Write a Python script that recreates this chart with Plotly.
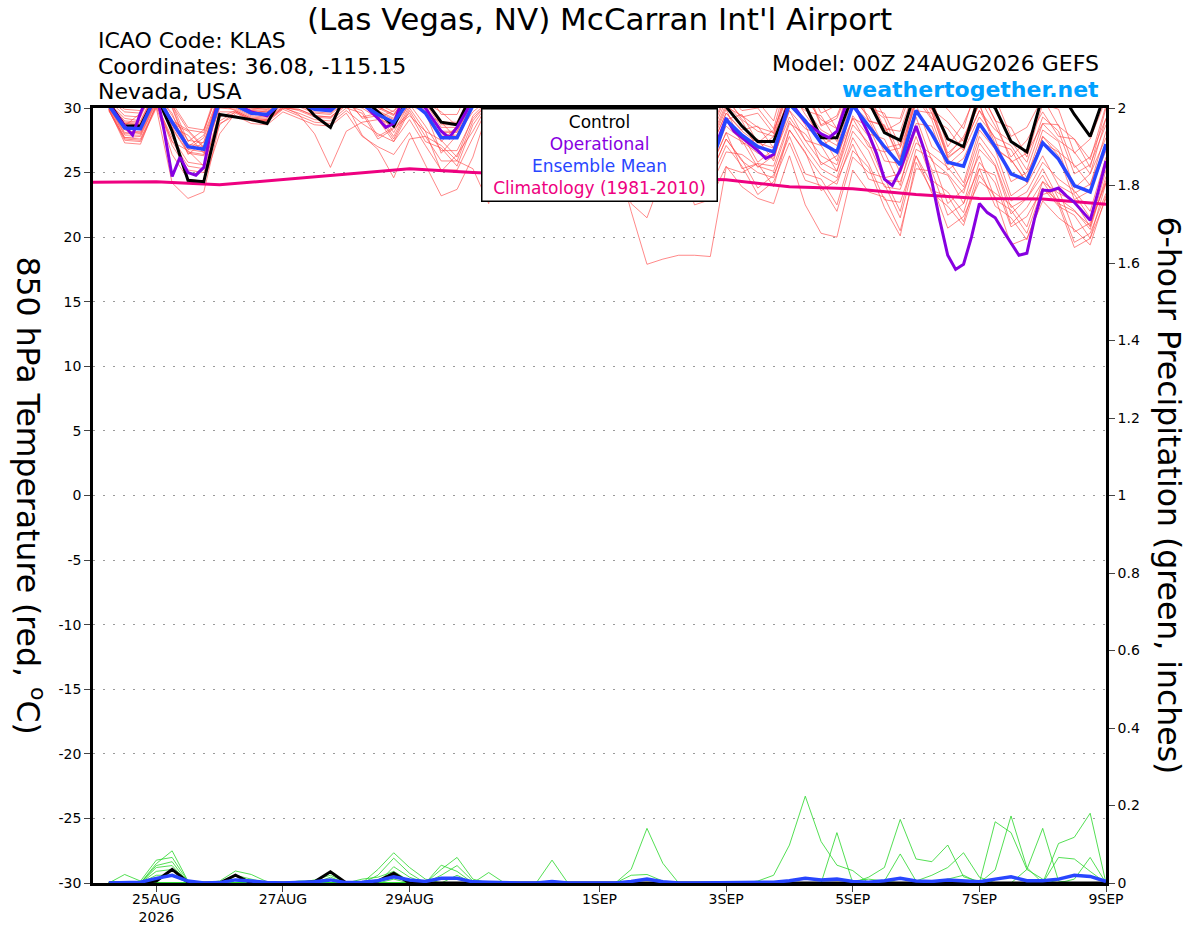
import pandas as pd
import plotly.graph_objects as go

# GEFS 6-hourly output: 24AUG2026 06Z ... 09SEP2026 00Z (64 steps)
times = pd.date_range("2026-08-24 06:00", "2026-09-09 00:00", freq="6h")

# 850 hPa temperature (C), control run
control = [30.4, 28.6, 28.6, 31.0, 28.2, 24.4, 24.3, 29.5, 29.3, 29.1, 28.8, 31.0, 30.8, 29.4, 28.5, 31.2,
           30.8, 29.7, 28.6, 31.0, 30.6, 28.9, 28.7, 31.2, 32.0, 31.5, 31.5, 33.0, 32.0, 31.5, 31.5, 33.0,
           32.0, 31.0, 31.0, 32.5, 31.5, 31.2, 31.3, 30.1, 28.6, 27.4, 27.4, 30.5, 30.2, 27.7, 27.7, 31.0,
           30.5, 28.1, 27.5, 31.5, 30.2, 27.6, 27.0, 31.0, 30.0, 27.4, 26.6, 31.0, 31.5, 29.5, 27.8, 31.3]

# ensemble mean
ens_mean = [30.2, 28.45, 28.4, 31.0, 28.9, 27.0, 26.8, 30.5, 30.2, 29.6, 29.5, 30.5, 30.4, 29.9, 29.8, 30.8,
            30.3, 29.5, 28.9, 30.6, 29.6, 27.7, 27.7, 30.2, 31.0, 30.5, 30.5, 31.5, 31.0, 30.5, 30.3, 31.5,
            30.8, 29.5, 29.0, 30.8, 30.0, 28.5, 25.5, 29.1, 27.9, 27.0, 26.6, 30.3, 29.0, 27.3, 26.6, 30.2,
            28.6, 27.0, 25.6, 29.8, 28.0, 25.8, 25.5, 28.8, 27.0, 24.9, 24.4, 27.3, 26.05, 24.0, 23.5, 27.2]

# operational GFS (3-hourly where the kinks show)
op_hours = [6, 9, 12, 15, 18, 21, 24, 27, 30, 33, 36, 39, 42, 45, 48, 54, 60, 66, 72, 78, 84, 90, 96, 102, 108,
            111, 114, 117, 120, 126, 132, 135, 138, 144, 150, 156, 162, 168, 174, 180, 186, 192, 198, 204, 210,
            216, 222, 228, 234, 240, 243, 246, 252, 255, 258, 261, 264, 270, 276, 279, 282, 285, 288, 294, 297,
            300, 303, 306, 312, 315, 318, 321, 324, 327, 330, 333, 336, 339, 342, 345, 348, 351, 354, 357, 360,
            363, 366, 369, 372, 375, 378, 381, 384]
op_temp = [30.3, 29.4, 28.6, 27.9, 29.6, 31.0, 31.2, 28.2, 24.7, 26.2, 25.0, 24.8, 25.4, 28.6, 31.0, 30.3, 29.7,
           29.4, 30.6, 30.6, 30.0, 29.9, 30.9, 30.4, 29.2, 28.5, 28.8, 30.5, 31.0, 30.0, 28.2, 27.7, 28.5, 30.6,
           31.0, 30.8, 30.5, 31.8, 31.2, 30.6, 30.4, 31.6, 31.0, 29.8, 29.2, 30.9, 30.0, 28.0, 26.0, 29.2, 28.2,
           27.7, 26.7, 26.1, 26.4, 28.5, 30.6, 28.9, 28.0, 27.7, 28.2, 30.0, 30.5, 28.0, 26.5, 24.5, 24.0, 25.2,
           28.6, 26.8, 24.3, 21.3, 18.6, 17.5, 17.9, 20.0, 22.6, 21.9, 21.5, 20.5, 19.5, 18.6, 18.75, 21.5, 23.65,
           23.6, 23.8, 23.2, 22.7, 22.0, 21.3, 23.5, 25.9]

# climatology (1981-2010), daily 00Z
clim = [24.25, 24.3, 24.05, 24.45, 24.9, 25.3, 25.0, 24.8, 24.7, 24.6, 24.45, 23.9, 23.75, 23.3, 23.0, 22.95, 22.55]

# ensemble members
m01 = [30.5, 28.6, 29.6, 31.8, 30.3, 27.4, 28.3, 31.5, 30.7, 30.1, 30.0, 31.0, 31.0, 30.5, 30.4, 31.4,
       31.1, 30.3, 29.7, 31.4, 30.8, 28.9, 28.9, 31.4, 31.5, 31.0, 31.0, 32.0, 31.8, 31.3, 31.1, 32.3,
       31.8, 30.5, 30.0, 31.8, 31.5, 30.0, 27.8, 30.6, 29.3, 29.6, 28.0, 32.3, 31.8, 28.7, 29.4, 32.4,
       31.1, 28.2, 28.9, 32.3, 30.8, 27.0, 28.8, 31.6, 29.0, 28.5, 26.2, 30.3, 29.9, 26.5, 27.6, 30.7]
m02 = [30.3, 28.8, 28.7, 31.3, 29.4, 27.5, 27.3, 31.0, 30.5, 29.9, 29.8, 30.8, 30.2, 29.7, 29.6, 30.6,
       30.7, 29.2, 29.8, 31.0, 29.5, 28.9, 27.6, 30.8, 31.3, 30.8, 30.8, 31.8, 31.5, 31.0, 30.8, 32.0,
       31.4, 30.1, 29.6, 31.4, 31.0, 29.5, 27.3, 30.1, 29.4, 28.5, 28.1, 31.8, 30.8, 29.1, 28.4, 32.0,
       30.1, 29.2, 26.2, 31.3, 29.2, 28.4, 26.7, 30.8, 28.6, 26.2, 27.5, 29.7, 27.8, 27.6, 25.4, 30.0]
m03 = [30.0, 27.9, 27.9, 30.5, 27.4, 26.7, 25.5, 29.7, 29.7, 29.1, 29.0, 30.0, 29.9, 29.4, 29.3, 30.3,
       30.0, 29.2, 28.6, 30.3, 28.6, 26.7, 26.7, 29.2, 30.5, 30.0, 30.0, 31.0, 30.8, 30.3, 30.1, 31.3,
       30.8, 29.5, 29.0, 30.8, 29.5, 28.0, 25.8, 28.6, 27.5, 25.4, 26.3, 29.3, 27.5, 27.1, 25.1, 29.4,
       27.8, 24.6, 24.9, 28.3, 25.2, 24.8, 22.6, 26.8, 25.5, 21.8, 23.0, 24.8, 22.6, 22.0, 20.9, 24.4]
m04 = [30.7, 29.7, 29.6, 32.2, 30.2, 28.3, 28.1, 31.8, 31.0, 30.4, 30.3, 31.3, 31.3, 30.8, 30.7, 31.7,
       31.3, 29.8, 30.4, 31.6, 30.4, 29.7, 28.6, 31.7, 32.0, 31.5, 31.5, 32.5, 32.2, 31.7, 31.5, 32.7,
       32.3, 31.0, 30.5, 32.3, 31.8, 30.3, 28.1, 30.9, 29.1, 28.2, 27.8, 31.5, 29.5, 27.8, 27.1, 30.7,
       29.4, 26.9, 27.2, 30.6, 29.9, 26.3, 27.8, 30.3, 27.2, 26.8, 24.6, 28.3, 27.4, 23.8, 24.9, 27.7]
m05 = [29.8, 27.6, 27.5, 30.1, 26.4, 24.5, 24.3, 28.0, 29.6, 29.0, 28.9, 29.9, 29.4, 28.9, 28.8, 29.8,
       28.8, 28.0, 27.4, 29.1, 27.1, 25.2, 25.2, 27.7, 30.2, 29.7, 29.7, 30.7, 30.0, 29.5, 29.3, 30.5,
       29.6, 28.3, 27.8, 29.6, 28.5, 27.0, 24.8, 27.6, 26.0, 23.8, 24.8, 27.8, 24.9, 24.5, 22.5, 26.7,
       25.4, 22.3, 20.1, 25.8, 23.6, 23.2, 21.2, 25.3, 24.8, 21.0, 22.3, 24.3, 23.4, 22.8, 20.8, 25.2]
m06 = [30.2, 28.5, 28.4, 31.0, 29.1, 27.2, 27.0, 30.7, 30.2, 29.6, 29.5, 30.5, 30.7, 30.2, 30.1, 31.1,
       30.1, 29.8, 28.1, 30.4, 30.4, 27.4, 28.6, 30.5, 31.0, 30.5, 30.5, 31.5, 31.2, 30.7, 30.5, 31.7,
       31.3, 30.0, 29.5, 31.3, 30.5, 29.0, 26.8, 29.6, 28.2, 27.3, 26.9, 30.6, 30.0, 28.3, 27.6, 31.2,
       29.1, 26.6, 26.9, 30.3, 27.0, 26.1, 24.2, 28.3, 26.8, 23.2, 24.1, 26.3, 24.0, 23.3, 21.5, 25.7]
m07 = [30.4, 29.0, 28.9, 31.5, 29.0, 28.3, 27.0, 31.3, 30.8, 30.2, 30.1, 31.1, 30.9, 30.4, 30.3, 31.3,
       30.9, 30.1, 29.5, 31.2, 30.4, 28.5, 28.5, 31.0, 31.8, 31.3, 31.3, 32.3, 31.9, 31.4, 31.2, 32.4,
       32.0, 30.7, 30.2, 32.0, 32.0, 30.5, 28.3, 31.1, 29.8, 30.0, 28.4, 32.8, 31.5, 28.6, 29.2, 32.2,
       29.0, 28.7, 26.0, 30.8, 29.1, 25.6, 26.7, 29.3, 27.7, 27.1, 25.2, 28.8, 28.7, 25.4, 26.2, 29.2]
m08 = [30.1, 28.0, 28.1, 30.7, 28.4, 26.5, 26.3, 30.0, 29.9, 29.3, 29.2, 30.2, 30.4, 29.9, 29.8, 30.8,
       29.2, 29.4, 27.6, 30.0, 28.2, 27.5, 26.2, 29.4, 30.6, 30.1, 30.1, 31.1, 30.4, 29.9, 29.7, 30.9,
       30.0, 28.7, 28.2, 30.0, 29.0, 27.5, 25.3, 28.1, 27.4, 26.5, 26.1, 29.8, 27.5, 25.8, 25.1, 28.7,
       27.3, 24.4, 24.3, 27.8, 24.4, 23.5, 21.9, 25.8, 24.2, 20.8, 21.6, 23.8, 22.4, 21.7, 19.9, 24.2]
m09 = [30.6, 29.4, 29.3, 31.9, 30.1, 27.0, 27.9, 31.1, 30.6, 30.0, 29.9, 30.9, 30.8, 30.3, 30.2, 31.2,
       30.5, 29.7, 29.1, 30.8, 30.0, 28.1, 28.1, 30.6, 31.6, 31.1, 31.1, 32.1, 31.4, 30.9, 30.7, 31.9,
       31.1, 29.8, 29.3, 31.1, 30.0, 28.5, 26.3, 29.1, 28.0, 25.8, 26.8, 29.8, 28.4, 27.9, 25.9, 30.2,
       29.0, 28.6, 25.9, 30.8, 30.0, 26.5, 27.6, 30.3, 26.8, 26.0, 24.2, 27.8, 26.3, 22.9, 23.6, 26.7]
m10 = [29.9, 27.3, 27.2, 30.3, 27.7, 25.8, 25.6, 29.3, 29.8, 29.2, 29.1, 30.1, 29.8, 29.3, 29.2, 30.2,
       29.8, 27.8, 28.5, 29.6, 27.4, 26.9, 25.5, 28.7, 30.4, 29.9, 29.9, 30.9, 30.2, 29.7, 29.5, 30.7,
       29.8, 28.5, 28.0, 29.8, 28.0, 26.5, 24.3, 27.1, 25.5, 23.3, 24.3, 27.3, 24.4, 24.0, 22.0, 26.2,
       25.0, 24.6, 22.0, 26.8, 26.1, 22.6, 23.7, 26.3, 22.9, 22.1, 20.3, 23.8, 22.8, 19.6, 20.3, 23.4]
m11 = [30.3, 28.5, 28.4, 31.0, 29.6, 26.4, 27.4, 30.5, 30.4, 29.8, 29.7, 30.7, 30.6, 30.1, 30.0, 31.0,
       30.8, 30.0, 29.4, 31.1, 29.6, 27.7, 27.7, 30.2, 31.2, 30.7, 30.7, 31.7, 31.0, 30.5, 30.3, 31.5,
       30.5, 29.2, 28.7, 30.5, 30.5, 29.0, 26.8, 29.6, 28.3, 28.6, 26.9, 31.3, 30.1, 27.1, 27.8, 30.7,
       28.0, 27.6, 25.0, 29.8, 29.6, 26.1, 27.1, 29.8, 28.3, 27.4, 25.8, 29.3, 28.2, 24.9, 25.6, 28.7]
m12 = [30.1, 28.1, 28.2, 30.8, 28.5, 26.6, 26.4, 30.1, 30.0, 29.4, 29.3, 30.3, 30.1, 29.6, 29.5, 30.5,
       29.3, 29.6, 27.8, 30.2, 29.7, 26.5, 27.9, 29.7, 30.7, 30.2, 30.2, 31.2, 30.6, 30.1, 29.9, 31.1,
       27.5, 22.6, 21.5, 24.8, 28.5, 27.0, 24.8, 27.6, 25.9, 25.0, 24.6, 28.3, 26.5, 24.8, 24.1, 27.7,
       25.7, 22.9, 22.7, 26.3, 23.4, 22.4, 20.9, 24.8, 23.1, 19.4, 19.9, 22.8, 21.5, 20.6, 19.4, 23.2]
m13 = [30.4, 29.2, 29.0, 31.6, 28.8, 28.2, 26.9, 31.2, 30.6, 30.0, 29.9, 30.9, 30.9, 30.4, 30.3, 31.3,
       30.9, 30.1, 29.5, 31.2, 30.6, 28.7, 28.7, 31.2, 31.7, 31.2, 31.2, 32.2, 31.6, 31.1, 30.9, 32.1,
       31.6, 30.3, 29.8, 31.6, 31.2, 29.7, 27.5, 30.3, 29.0, 26.8, 27.8, 30.8, 29.8, 29.4, 27.4, 31.7,
       30.0, 29.6, 27.0, 31.8, 29.6, 26.2, 27.1, 29.8, 27.6, 24.3, 25.0, 27.3, 26.6, 25.6, 24.0, 28.2]
m14 = [29.8, 27.5, 27.4, 30.0, 24.2, 23.0, 23.5, 28.8, 29.4, 28.8, 28.7, 29.7, 29.2, 28.7, 28.6, 29.6,
       27.8, 27.0, 26.4, 28.1, 25.6, 23.2, 23.7, 26.2, 30.0, 29.5, 29.5, 30.5, 29.8, 29.3, 29.1, 30.3,
       29.3, 28.0, 27.5, 29.3, 27.5, 26.0, 23.8, 26.6, 26.4, 25.5, 25.1, 28.8, 28.0, 26.3, 25.6, 29.2,
       28.6, 25.9, 25.7, 29.3, 25.9, 24.9, 23.4, 27.3, 25.6, 22.3, 23.0, 25.3, 23.0, 22.1, 20.6, 24.7]
m15 = [30.4, 28.9, 28.8, 31.4, 30.0, 26.8, 27.7, 30.9, 30.4, 29.8, 29.7, 30.7, 30.5, 30.0, 29.9, 30.9,
       30.3, 29.5, 28.9, 30.6, 29.8, 27.9, 27.9, 30.4, 31.4, 30.9, 30.9, 31.9, 31.3, 30.8, 30.6, 31.8,
       31.2, 29.9, 29.4, 31.2, 30.8, 29.3, 27.1, 29.9, 27.2, 27.6, 25.9, 30.3, 28.7, 25.6, 26.3, 29.2,
       27.0, 26.6, 24.0, 28.8, 28.6, 25.2, 26.1, 28.8, 26.9, 26.0, 24.3, 27.8, 26.7, 23.4, 24.1, 27.2]
m16 = [30.0, 28.3, 28.0, 30.6, 28.7, 26.8, 26.6, 30.3, 29.8, 29.2, 29.1, 30.1, 29.5, 28.0, 25.4, 28.2,
       28.9, 29.1, 27.4, 29.8, 27.8, 27.1, 25.9, 29.0, 30.5, 30.0, 30.0, 31.0, 30.5, 30.0, 29.8, 31.0,
       26.5, 22.0, 17.9, 18.3, 18.6, 18.6, 18.5, 25.4, 25.0, 25.7, 25.5, 29.0, 27.0, 25.3, 24.6, 28.2,
       26.7, 23.9, 23.7, 27.3, 26.4, 25.4, 23.9, 27.8, 26.1, 22.8, 23.5, 25.8, 24.5, 23.6, 22.0, 26.2]
m17 = [30.8, 29.9, 29.8, 32.4, 30.4, 28.5, 28.3, 32.0, 31.2, 30.6, 30.5, 31.5, 31.4, 30.9, 30.8, 31.8,
       31.5, 30.7, 30.1, 31.8, 31.4, 29.5, 29.5, 32.0, 32.2, 31.7, 31.7, 32.7, 32.5, 32.0, 31.8, 33.0,
       32.6, 31.3, 30.8, 32.6, 32.5, 31.0, 28.8, 31.6, 30.3, 30.5, 29.0, 33.3, 32.0, 29.6, 30.2, 33.2,
       31.6, 29.3, 29.2, 32.8, 31.0, 29.9, 28.4, 32.3, 30.8, 27.8, 28.5, 30.8, 28.6, 27.6, 26.0, 30.2]
m18 = [29.9, 27.7, 27.8, 30.4, 27.1, 25.2, 25.0, 28.7, 29.7, 29.1, 29.0, 30.0, 29.6, 29.1, 29.0, 30.0,
       29.6, 27.6, 28.4, 29.4, 28.2, 25.1, 26.4, 28.2, 30.4, 29.9, 29.9, 30.9, 30.2, 29.7, 29.5, 30.7,
       29.8, 28.5, 28.0, 29.8, 26.5, 22.5, 22.9, 25.5, 23.9, 23.0, 22.6, 26.3, 22.5, 20.3, 20.0, 25.2,
       23.5, 23.1, 20.5, 25.3, 25.1, 21.7, 22.6, 25.3, 22.4, 21.5, 19.8, 23.3, 23.7, 20.4, 21.1, 24.2]
m19 = [30.2, 28.8, 28.7, 31.3, 28.5, 27.9, 26.5, 30.8, 30.3, 29.7, 29.6, 30.6, 30.7, 30.2, 30.1, 31.1,
       30.6, 29.8, 29.2, 30.9, 30.1, 28.2, 28.2, 30.7, 31.2, 30.7, 30.7, 31.7, 31.3, 30.8, 30.6, 31.8,
       31.0, 29.7, 29.2, 31.0, 30.0, 28.5, 26.3, 29.1, 29.5, 27.3, 28.3, 31.3, 30.9, 30.3, 28.4, 32.7,
       31.2, 28.4, 28.2, 31.8, 29.9, 28.9, 27.4, 31.3, 29.1, 25.8, 26.5, 28.8, 27.5, 26.6, 24.9, 29.2]
m20 = [29.9, 27.7, 27.6, 30.2, 27.4, 25.5, 25.3, 29.0, 29.7, 29.1, 29.0, 30.0, 29.9, 29.4, 29.3, 30.3,
       27.9, 26.8, 24.6, 27.6, 27.8, 25.9, 25.9, 25.3, 22.6, 27.5, 29.7, 30.7, 30.0, 29.5, 29.3, 30.5,
       29.8, 28.5, 28.0, 29.8, 29.0, 27.5, 25.3, 28.1, 25.3, 25.7, 23.9, 28.3, 26.6, 23.6, 24.4, 27.2,
       24.5, 24.1, 21.5, 26.3, 24.1, 20.7, 21.6, 24.3, 23.4, 22.5, 20.8, 24.3, 22.5, 19.2, 19.9, 23.0]
members = [m01, m02, m03, m04, m05, m06, m07, m08, m09, m10,
           m11, m12, m13, m14, m15, m16, m17, m18, m19, m20]

# 6-hour precipitation (inches)
precip_control = [0, 0, 0, 0.005, 0.035, 0.002, 0, 0, 0.02, 0, 0, 0, 0, 0.003, 0.029, 0,
                  0, 0.005, 0.025, 0, 0, 0, 0, 0, 0, 0, 0, 0, 0, 0, 0, 0,
                  0, 0, 0, 0, 0, 0, 0, 0, 0, 0, 0, 0, 0, 0, 0, 0,
                  0, 0, 0, 0, 0, 0, 0, 0, 0, 0, 0, 0, 0, 0, 0, 0]
precip_mean = [0, 0.002, 0.002, 0.012, 0.02, 0.005, 0, 0.001, 0.008, 0.005, 0.001, 0, 0.001, 0.003, 0.008, 0.001,
               0.002, 0.006, 0.016, 0.008, 0.004, 0.012, 0.012, 0.003, 0.002, 0, 0, 0, 0.004, 0, 0, 0,
               0, 0.004, 0.01, 0.003, 0, 0, 0, 0, 0, 0, 0.002, 0.006, 0.012, 0.008, 0.01, 0.004,
               0.002, 0.006, 0.012, 0.005, 0.004, 0.008, 0.006, 0.003, 0.01, 0.016, 0.006, 0.006, 0.01, 0.02, 0.017, 0.004]
p01 = [0, 0.022, 0.005, 0.059, 0.066, 0.004, 0, 0, 0, 0, 0, 0, 0, 0, 0, 0,
       0, 0, 0.01, 0, 0, 0, 0, 0, 0, 0, 0, 0, 0, 0, 0, 0,
       0, 0.035, 0.141, 0.051, 0, 0, 0, 0, 0, 0, 0, 0, 0, 0, 0, 0,
       0, 0, 0, 0, 0, 0.01, 0.02, 0, 0, 0, 0, 0, 0, 0, 0, 0]
p02 = [0, 0, 0, 0.05, 0.083, 0.005, 0, 0, 0, 0, 0, 0, 0, 0.008, 0.02, 0.002,
       0, 0, 0, 0, 0, 0, 0, 0, 0, 0, 0, 0, 0, 0, 0, 0,
       0, 0, 0, 0, 0, 0, 0, 0, 0, 0.005, 0.02, 0.098, 0.224, 0.107, 0.046, 0.032,
       0, 0, 0, 0, 0, 0, 0, 0, 0, 0, 0, 0, 0, 0, 0, 0]
p03 = [0, 0, 0, 0.045, 0.055, 0, 0, 0, 0, 0, 0, 0, 0.005, 0.005, 0, 0,
       0, 0, 0, 0, 0, 0, 0, 0, 0, 0, 0, 0, 0, 0, 0, 0,
       0, 0.02, 0.022, 0.005, 0, 0, 0, 0, 0, 0, 0, 0, 0, 0, 0, 0.005,
       0.01, 0.005, 0, 0, 0, 0, 0, 0, 0, 0, 0, 0, 0, 0, 0, 0]
p04 = [0, 0, 0, 0.04, 0.045, 0, 0, 0, 0, 0, 0, 0, 0, 0, 0, 0,
       0, 0.035, 0.078, 0.04, 0.01, 0, 0, 0, 0, 0, 0, 0, 0, 0, 0, 0,
       0, 0, 0, 0, 0, 0, 0, 0, 0, 0, 0, 0, 0, 0, 0, 0,
       0, 0, 0, 0, 0, 0, 0, 0, 0, 0, 0, 0, 0, 0.01, 0.066, 0]
p05 = [0, 0, 0, 0.03, 0.035, 0, 0, 0, 0, 0, 0, 0, 0, 0, 0, 0,
       0, 0.02, 0.064, 0.025, 0, 0, 0, 0, 0, 0, 0, 0, 0, 0, 0, 0,
       0, 0, 0, 0, 0, 0, 0, 0, 0, 0, 0, 0, 0, 0, 0.13, 0,
       0, 0, 0, 0, 0, 0, 0, 0, 0, 0, 0, 0, 0, 0, 0, 0]
p06 = [0, 0, 0, 0.02, 0.02, 0, 0, 0, 0, 0, 0, 0, 0, 0, 0, 0,
       0, 0, 0.042, 0.015, 0, 0, 0, 0, 0, 0, 0, 0, 0, 0, 0, 0,
       0, 0, 0, 0, 0, 0, 0, 0, 0, 0, 0, 0, 0, 0, 0, 0,
       0.015, 0.04, 0.164, 0.062, 0.055, 0.098, 0.016, 0.004, 0, 0, 0, 0, 0, 0, 0, 0]
p07 = [0, 0, 0, 0, 0, 0, 0, 0.005, 0.031, 0.022, 0.003, 0, 0, 0, 0, 0,
       0, 0, 0, 0, 0, 0.046, 0.03, 0, 0, 0, 0, 0, 0, 0, 0, 0,
       0, 0, 0, 0, 0, 0, 0, 0, 0, 0, 0, 0, 0, 0, 0, 0,
       0, 0.005, 0.075, 0.005, 0.02, 0.04, 0.078, 0.015, 0, 0, 0, 0, 0, 0, 0, 0]
p08 = [0, 0, 0, 0, 0, 0, 0, 0, 0.02, 0.01, 0, 0, 0, 0, 0, 0,
       0, 0, 0, 0, 0, 0.035, 0.066, 0.01, 0, 0, 0, 0, 0, 0, 0, 0,
       0, 0, 0, 0, 0, 0, 0, 0, 0, 0, 0, 0, 0, 0, 0, 0,
       0, 0, 0, 0, 0, 0, 0, 0, 0.158, 0.13, 0.035, 0.01, 0, 0, 0, 0]
p09 = [0, 0, 0, 0, 0, 0, 0, 0, 0, 0, 0, 0, 0, 0, 0.015, 0,
       0, 0, 0, 0, 0, 0.02, 0.045, 0.005, 0, 0, 0, 0, 0, 0, 0, 0,
       0, 0, 0, 0, 0, 0, 0, 0, 0, 0, 0, 0, 0, 0, 0, 0,
       0, 0, 0, 0, 0, 0, 0, 0, 0.034, 0.173, 0.04, 0, 0, 0, 0, 0]
p10 = [0, 0, 0, 0, 0, 0, 0, 0, 0, 0, 0, 0, 0, 0, 0, 0,
       0.01, 0.015, 0.03, 0.005, 0, 0, 0, 0, 0, 0, 0, 0, 0, 0, 0, 0,
       0, 0, 0, 0, 0, 0, 0, 0, 0, 0, 0, 0, 0, 0, 0, 0,
       0, 0, 0, 0, 0, 0, 0, 0, 0, 0, 0.035, 0.141, 0.005, 0, 0, 0]
p11 = [0, 0, 0, 0, 0, 0, 0, 0, 0, 0, 0, 0, 0, 0, 0, 0,
       0, 0, 0, 0, 0, 0, 0.02, 0, 0.027, 0, 0, 0, 0, 0, 0, 0,
       0, 0, 0, 0, 0, 0, 0, 0, 0, 0, 0, 0, 0, 0, 0, 0,
       0, 0, 0, 0, 0, 0, 0, 0, 0, 0, 0, 0, 0.102, 0.118, 0.18, 0]
p12 = [0, 0, 0, 0, 0, 0, 0, 0, 0, 0, 0, 0, 0, 0, 0, 0,
       0, 0, 0, 0, 0, 0, 0, 0, 0, 0, 0, 0, 0.059, 0, 0, 0,
       0, 0, 0, 0, 0, 0, 0, 0, 0, 0, 0, 0, 0, 0, 0, 0,
       0, 0, 0, 0, 0, 0, 0, 0, 0, 0, 0, 0, 0.066, 0.062, 0.03, 0]
precip_members = [p01, p02, p03, p04, p05, p06, p07, p08, p09, p10, p11, p12]

date_ticks = ["2026-08-25", "2026-08-27", "2026-08-29", "2026-09-01",
              "2026-09-03", "2026-09-05", "2026-09-07", "2026-09-09"]
date_labels = ["25AUG<br>2026", "27AUG", "29AUG", "1SEP", "3SEP", "5SEP", "7SEP", "9SEP"]
temp_ticks = [-30, -25, -20, -15, -10, -5, 0, 5, 10, 15, 20, 25, 30]
precip_ticks = [0, 0.2, 0.4, 0.6, 0.8, 1, 1.2, 1.4, 1.6, 1.8, 2]

op_times = pd.Timestamp("2026-08-24") + pd.to_timedelta(op_hours, unit="h")
clim_times = pd.date_range("2026-08-24", "2026-09-09", freq="D")

FONT = "DejaVu Sans"
RED = "rgba(255,70,70,0.8)"
GREEN = "rgb(40,215,40)"
PURPLE = "rgb(135,0,225)"
BLUE = "rgb(40,70,255)"
PINK = "rgb(238,0,128)"

fig = go.Figure()

for m in members:
    fig.add_trace(go.Scatter(x=times, y=m, mode="lines", line=dict(color=RED, width=0.8),
                             hoverinfo="skip", showlegend=False))

fig.add_trace(go.Scatter(x=clim_times, y=clim, mode="lines", line=dict(color=PINK, width=3),
                         showlegend=False))
fig.add_trace(go.Scatter(x=times, y=control, mode="lines", line=dict(color="black", width=3),
                         showlegend=False))
fig.add_trace(go.Scatter(x=op_times, y=op_temp, mode="lines", line=dict(color=PURPLE, width=3),
                         showlegend=False))
fig.add_trace(go.Scatter(x=times, y=ens_mean, mode="lines", line=dict(color=BLUE, width=3.5),
                         showlegend=False))

# precipitation on the right axis
for p in precip_members:
    fig.add_trace(go.Scatter(x=times, y=p, mode="lines", line=dict(color=GREEN, width=0.8),
                             yaxis="y2", hoverinfo="skip", showlegend=False))
fig.add_trace(go.Scatter(x=times, y=precip_control, mode="lines", line=dict(color="black", width=3),
                         yaxis="y2", showlegend=False))
fig.add_trace(go.Scatter(x=times, y=precip_mean, mode="lines", line=dict(color=BLUE, width=3.5),
                         yaxis="y2", showlegend=False))

axis_common = dict(showline=True, linecolor="black", linewidth=2.5, ticks="outside", ticklen=6,
                   tickcolor="#444", tickfont=dict(family=FONT, size=14, color="black"),
                   zeroline=False, automargin=False)

fig.update_layout(
    width=1200, height=927,
    margin=dict(l=93, r=94, t=108, b=44),
    paper_bgcolor="white", plot_bgcolor="white",
    font=dict(family=FONT, color="black"),
    xaxis=dict(type="date", range=["2026-08-24 00:00", "2026-09-09 00:00"],
               tickvals=date_ticks, ticktext=date_labels, showgrid=False, mirror=True,
               ticklabelstandoff=-5, **axis_common),
    yaxis=dict(range=[-30, 30], tickvals=temp_ticks, ticktext=[str(t) for t in temp_ticks],
               showgrid=True, gridcolor="#9a9a9a", griddash="2px,8px", gridwidth=1, mirror=True,
               **axis_common),
    yaxis2=dict(range=[0, 2], overlaying="y", side="right", tickvals=precip_ticks,
                ticktext=[f"{t:g}" for t in precip_ticks], showgrid=False, **axis_common),
)

def px_x(x):
    return (x - 93) / 1013

def px_y(y):
    return (883 - y) / 775

notes = [
    dict(text="(Las Vegas, NV) McCarran Int'l Airport", x=0.5, y=px_y(19), xanchor="center", size=31),
    dict(text="ICAO Code: KLAS", x=px_x(96), y=px_y(40), xanchor="left", size=22),
    dict(text="Coordinates: 36.08, -115.15", x=px_x(96), y=px_y(66), xanchor="left", size=22),
    dict(text="Nevada, USA", x=px_x(96), y=px_y(92), xanchor="left", size=22),
    dict(text="Model: 00Z 24AUG2026 GEFS", x=px_x(1101), y=px_y(64), xanchor="right", size=22),
]
for n in notes:
    fig.add_annotation(text=n["text"], x=n["x"], y=n["y"], xref="paper", yref="paper",
                       xanchor=n["xanchor"], yanchor="middle", showarrow=False,
                       font=dict(family=FONT, size=n["size"], color="black"))

fig.add_annotation(text="<b>weathertogether.net</b>", x=px_x(1101), y=px_y(89), xref="paper", yref="paper",
                   xanchor="right", yanchor="middle", showarrow=False,
                   font=dict(family=FONT, size=22, color="rgb(0,160,255)"))

fig.add_annotation(text="850 hPa Temperature (red, <sup>o</sup>C)", textangle=90,
                   x=px_x(31), y=0.5, xref="paper", yref="paper", xanchor="center", yanchor="middle",
                   showarrow=False, font=dict(family=FONT, size=31.5, color="black"))
fig.add_annotation(text="6-hour Precipitation (green, inches)", textangle=90,
                   x=px_x(1169), y=0.5, xref="paper", yref="paper", xanchor="center", yanchor="middle",
                   showarrow=False, font=dict(family=FONT, size=31.5, color="black"))

legend_text = ("Control<br>"
               f"<span style='color:{PURPLE}'>Operational</span><br>"
               f"<span style='color:{BLUE}'>Ensemble Mean</span><br>"
               f"<span style='color:{PINK}'>Climatology (1981-2010)</span>")
fig.add_annotation(text=legend_text, x=0.5, y=1.0, xref="paper", yref="paper", xanchor="center",
                   yanchor="top", showarrow=False, align="center", width=232, height=89,
                   bgcolor="white", bordercolor="black", borderwidth=1.5, borderpad=1,
                   font=dict(family=FONT, size=17, color="black"))

# page body margin would shift the figure; drop it so the figure sits at the window origin
fig.write_html("out.html", config={"displayModeBar": False},
               post_script="document.body.style.margin = '0';")
